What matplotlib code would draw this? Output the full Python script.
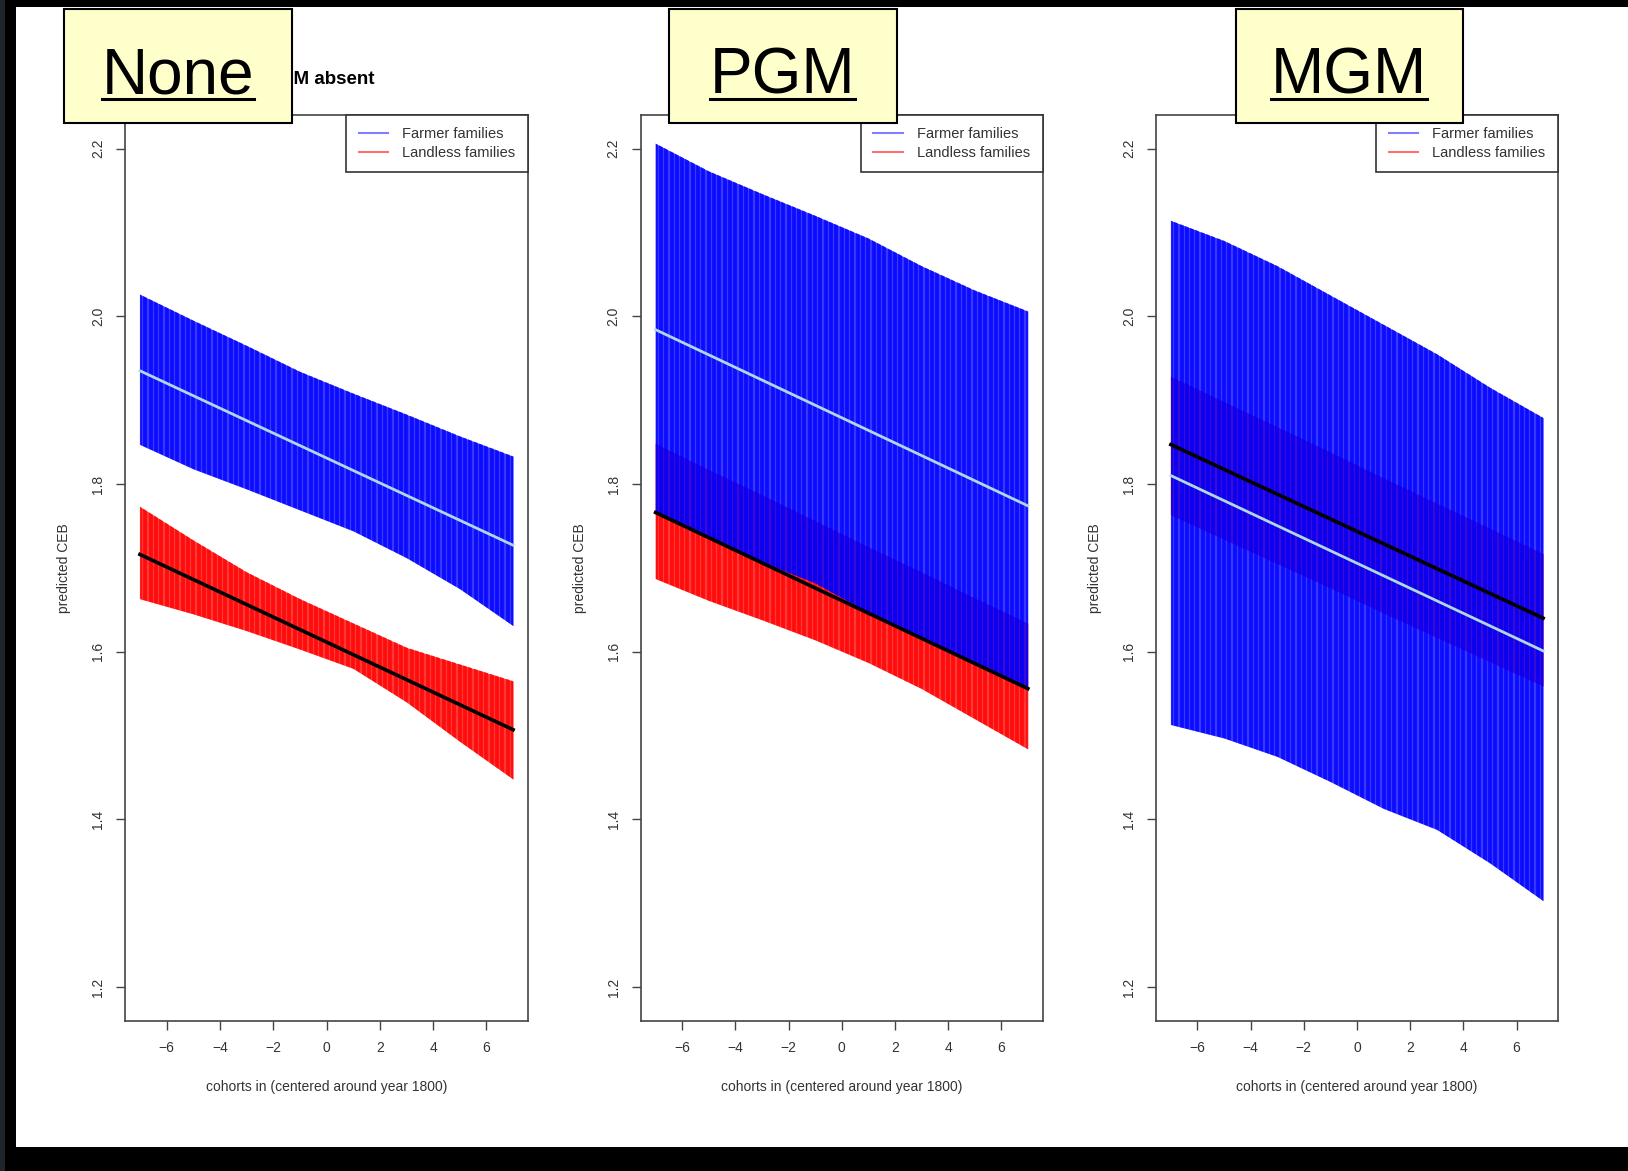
import numpy as np
import matplotlib.pyplot as plt
from matplotlib.patches import Rectangle
from matplotlib.lines import Line2D

plt.rcParams['font.family'] = ['Liberation Sans', 'DejaVu Sans']

W, H = 1628, 1171

# cohort positions where the interval bounds were read
cohort = [-7, -5, -3, -1, 1, 3, 5, 7]
line_x = [-7, 7]

panel_names = ['None', 'PGM', 'MGM']

# None (grandmother absent)
none_farm_hi = [2.026, 1.995, 1.965, 1.934, 1.908, 1.883, 1.857, 1.833]
none_farm_lo = [1.847, 1.818, 1.794, 1.769, 1.744, 1.712, 1.675, 1.631]
none_land_hi = [1.773, 1.733, 1.695, 1.663, 1.634, 1.605, 1.585, 1.565]
none_land_lo = [1.663, 1.645, 1.625, 1.603, 1.580, 1.540, 1.493, 1.448]
none_farm_mean = [1.935, 1.727]
none_land_mean = [1.716, 1.507]

# PGM
pgm_farm_hi = [2.206, 2.173, 2.146, 2.120, 2.093, 2.060, 2.031, 2.006]
pgm_farm_lo = [1.767, 1.737, 1.707, 1.682, 1.647, 1.617, 1.587, 1.557]
pgm_land_hi = [1.848, 1.817, 1.787, 1.756, 1.725, 1.695, 1.664, 1.634]
pgm_land_lo = [1.687, 1.661, 1.638, 1.614, 1.587, 1.556, 1.520, 1.484]
pgm_farm_mean = [1.984, 1.774]
pgm_land_mean = [1.766, 1.556]

# MGM
mgm_farm_hi = [2.114, 2.090, 2.060, 2.025, 1.990, 1.955, 1.915, 1.879]
mgm_farm_lo = [1.513, 1.497, 1.475, 1.445, 1.413, 1.388, 1.348, 1.303]
mgm_land_hi = [1.928, 1.898, 1.868, 1.838, 1.807, 1.777, 1.747, 1.717]
mgm_land_lo = [1.763, 1.734, 1.705, 1.676, 1.646, 1.617, 1.588, 1.559]
mgm_farm_mean = [1.810, 1.601]
mgm_land_mean = [1.847, 1.640]

panels = [
    (none_farm_lo, none_farm_hi, none_land_lo, none_land_hi, none_farm_mean, none_land_mean),
    (pgm_farm_lo, pgm_farm_hi, pgm_land_lo, pgm_land_hi, pgm_farm_mean, pgm_land_mean),
    (mgm_farm_lo, mgm_farm_hi, mgm_land_lo, mgm_land_hi, mgm_farm_mean, mgm_land_mean),
]
titles = ['GM absent', '', '']

yticks = [1.2, 1.4, 1.6, 1.8, 2.0, 2.2]
xticks = [-6, -4, -2, 0, 2, 4, 6]

# pixel boxes (left, right) of the three plot regions
ax_left = [125, 640.7, 1156]
ax_right = [528, 1042.7, 1558]
ax_top, ax_bot = 115, 1020.7
lbl_boxes = [(64.4, 291.8), (668.7, 896.5), (1235.6, 1463)]

txt_col = '#333333'


def fx(px):
    return px / W


def fy(py):
    return 1 - py / H


def band(ax, lo, hi, color):
    # R style: semi-transparent vertical segments -> striped band
    poly = ax.fill_between(cohort, lo, hi, color=color, alpha=0.78, lw=0, zorder=2)
    y0, y1 = ax.get_ylim()
    vl = ax.vlines(np.arange(-7, 7.001, 0.2), y0, y1, colors=color, alpha=0.78,
                   lw=2.7, zorder=2)
    vl.set_clip_path(poly.get_paths()[0], ax.transData)


fig = plt.figure(figsize=(W / 100, H / 100), dpi=100, facecolor='black')
fig.patches.append(Rectangle((0, 0), fx(5), 1, transform=fig.transFigure,
                             facecolor='#1f262b', edgecolor='none', zorder=-10))
fig.patches.append(Rectangle((fx(16), fy(1147)), 1, (1147 - 7) / H,
                             transform=fig.transFigure, facecolor='white',
                             edgecolor='none', zorder=-10))

for i, (flo, fhi, llo, lhi, fmean, lmean) in enumerate(panels):
    ax = fig.add_axes([fx(ax_left[i]), fy(ax_bot), fx(ax_right[i] - ax_left[i]),
                       (ax_bot - ax_top) / H])
    ax.set_xlim(-7.56, 7.56)
    ax.set_ylim(1.16, 2.24)
    band(ax, llo, lhi, 'red')
    band(ax, flo, fhi, 'blue')
    ax.plot(line_x, fmean, color='#add8e6', lw=2.0, zorder=3)
    ax.plot(line_x, lmean, color='black', lw=2.6, zorder=3)

    ax.set_xticks(xticks)
    ax.set_yticks(yticks)
    ax.set_yticklabels([f'{v:.1f}' for v in yticks], rotation=90, va='center')
    ax.tick_params(length=6.5, width=1.0, color='#444444', labelsize=10,
                   labelcolor=txt_col, pad=8)
    for s in ax.spines.values():
        s.set_color('#444444')
        s.set_linewidth(1.2)
    ax.set_xlabel('cohorts in (centered around year 1800)', fontsize=10,
                  color=txt_col, labelpad=18)
    ax.set_ylabel('predicted CEB', fontsize=10, color=txt_col, labelpad=14)
    if titles[i]:
        ax.set_title(titles[i], fontsize=13.5, fontweight='bold', pad=22)

    handles = [Line2D([], [], color='#7f7fff', lw=1.5),
               Line2D([], [], color='#ff6f6f', lw=1.5)]
    leg = ax.legend(handles, ['Farmer families', 'Landless families'],
                    loc='upper right', bbox_to_anchor=(1, 1), borderaxespad=0,
                    fontsize=10.5, fancybox=False, framealpha=1, edgecolor='#333333',
                    borderpad=0.85, handlelength=2.0, handletextpad=1.0,
                    labelspacing=0.3)
    leg.get_frame().set_linewidth(1.2)
    for t in leg.get_texts():
        t.set_color(txt_col)

# yellow label boxes with underlined names
labels = []
for (l, r), name in zip(lbl_boxes, panel_names):
    fig.patches.append(Rectangle((fx(l), fy(122.5)), fx(r - l), (122.5 - 9.3) / H,
                                 transform=fig.transFigure, facecolor='#ffffcc',
                                 edgecolor='black', lw=1.5, zorder=10))
    t = fig.text(fx((l + r) / 2), fy(93.5), name, ha='center', va='baseline',
                 fontsize=46, color='black', zorder=11)
    labels.append(t)

fig.canvas.draw()
rend = fig.canvas.get_renderer()
for t in labels:
    bb = t.get_window_extent(rend)
    fig.lines.append(Line2D([bb.x0 / W, bb.x1 / W], [fy(98.5), fy(98.5)],
                            transform=fig.transFigure, color='black', lw=2.2,
                            zorder=12))

fig.savefig('out.png', dpi=100, facecolor='black')
